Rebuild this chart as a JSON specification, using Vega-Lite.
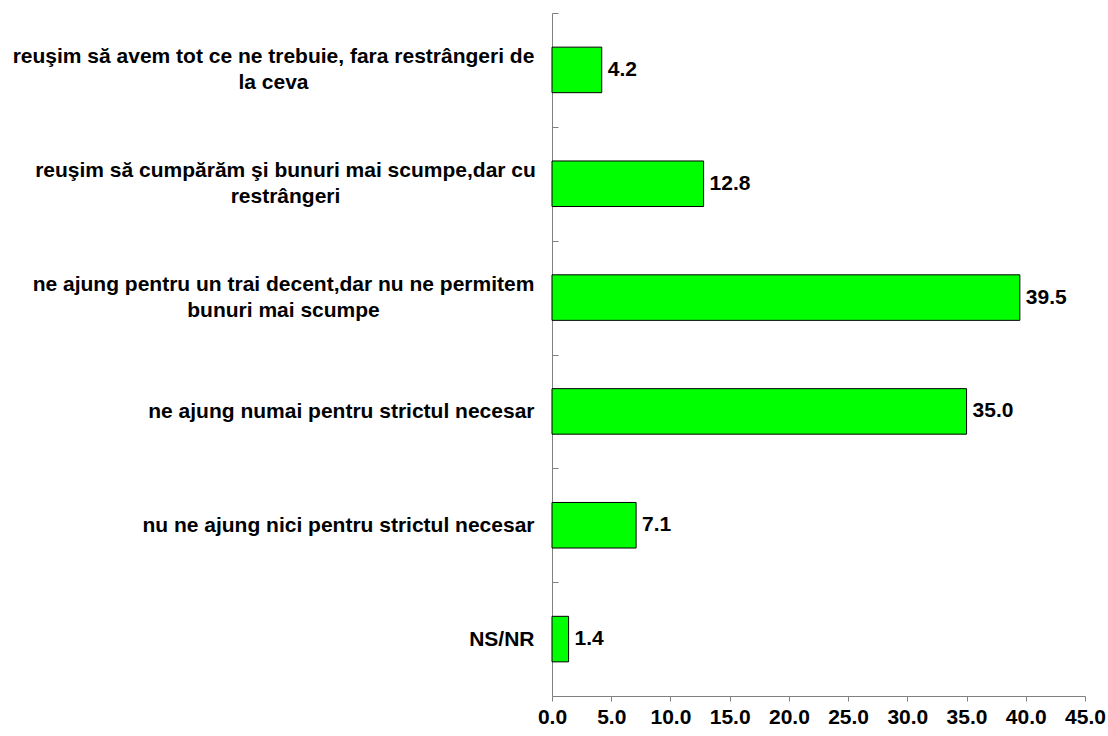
{
  "$schema": "https://vega.github.io/schema/vega-lite/v6.json",
  "width": 533,
  "height": 683,
  "autosize": "none",
  "padding": {"left": 552, "top": 13, "right": 23, "bottom": 40},
  "background": "white",
  "config": {"view": {"stroke": null}, "font": "Liberation Sans"},
  "data": {
    "values": [
      {"raspuns": "reuşim să avem tot ce ne trebuie, fara restrângeri de la ceva", "procent": 4.2},
      {"raspuns": "reuşim să cumpărăm şi bunuri mai scumpe,dar cu restrângeri", "procent": 12.8},
      {"raspuns": "ne ajung pentru un trai decent,dar nu ne permitem bunuri mai scumpe", "procent": 39.5},
      {"raspuns": "ne ajung numai pentru strictul necesar", "procent": 35.0},
      {"raspuns": "nu ne ajung nici pentru strictul necesar", "procent": 7.1},
      {"raspuns": "NS/NR", "procent": 1.4}
    ]
  },
  "encoding": {
    "y": {
      "field": "raspuns",
      "type": "nominal",
      "sort": null,
      "scale": {"paddingInner": 0.6, "paddingOuter": 0.3},
      "axis": {
        "title": null,
        "domainColor": "#808080",
        "tickColor": "#808080",
        "tickSize": -6,
        "tickOffset": -56.9,
        "labelFont": "Liberation Sans",
        "labelFontSize": 21,
        "labelFontWeight": "bold",
        "labelColor": "#000000",
        "labelLimit": 1000,
        "labelLineHeight": 26,
        "labelBaseline": "middle",
        "labelExpr": "datum.value == 'reuşim să avem tot ce ne trebuie, fara restrângeri de la ceva' ? ['reuşim să avem tot ce ne trebuie, fara restrângeri de', 'la ceva'] : datum.value == 'reuşim să cumpărăm şi bunuri mai scumpe,dar cu restrângeri' ? ['reuşim să cumpărăm şi bunuri mai scumpe,dar cu', 'restrângeri'] : datum.value == 'ne ajung pentru un trai decent,dar nu ne permitem bunuri mai scumpe' ? ['ne ajung pentru un trai decent,dar nu ne permitem', 'bunuri mai scumpe'] : datum.value",
        "labelAlign": {"condition": {"test": "length(datum.value) > 45", "value": "center"}, "value": "right"},
        "labelOffset": {"condition": {"test": "length(datum.value) > 45", "value": 43.9}, "value": 56.9},
        "labelPadding": {
          "condition": [
            {"test": "indexof(datum.value, 'avem') >= 0", "value": 285},
            {"test": "indexof(datum.value, 'cumpărăm') >= 0", "value": 273},
            {"test": "indexof(datum.value, 'permitem') >= 0", "value": 275}
          ],
          "value": 24
        }
      }
    },
    "x": {
      "field": "procent",
      "type": "quantitative",
      "scale": {"domain": [0, 45], "nice": false},
      "axis": {
        "title": null,
        "values": [0, 5, 10, 15, 20, 25, 30, 35, 40, 45],
        "format": ".1f",
        "grid": false,
        "domainColor": "#808080",
        "tickColor": "#808080",
        "tickSize": 5,
        "labelFont": "Liberation Sans",
        "labelFontSize": 21,
        "labelFontWeight": "bold",
        "labelColor": "#000000",
        "labelPadding": 5,
        "labelFlush": false,
        "labelOverlap": false
      }
    }
  },
  "layer": [
    {"mark": {"type": "bar", "fill": "#00FF00", "stroke": "#000000", "strokeWidth": 1}},
    {
      "mark": {"type": "text", "align": "left", "baseline": "middle", "dx": 6, "fontSize": 21, "fontWeight": "bold", "font": "Liberation Sans", "color": "#000000"},
      "encoding": {"text": {"field": "procent", "type": "quantitative", "format": ".1f"}}
    }
  ]
}
